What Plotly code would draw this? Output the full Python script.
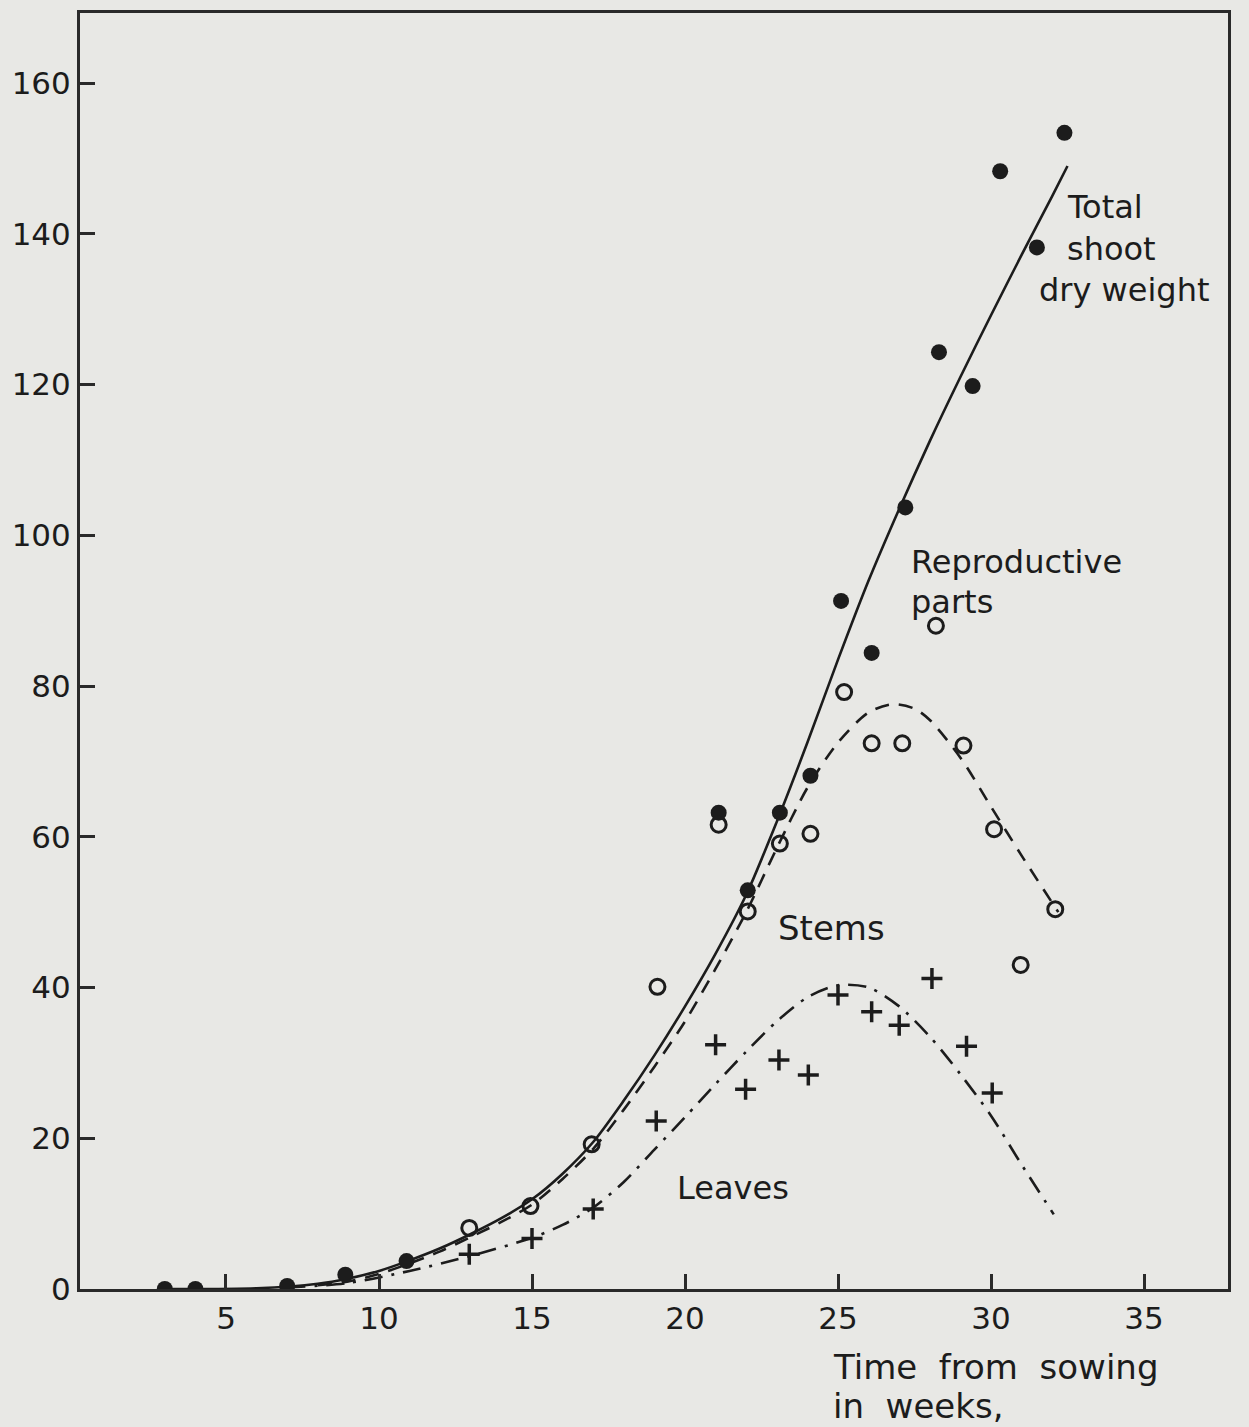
import plotly.graph_objects as go

# ---- Data ----
# Total shoot dry weight (filled dots)
total_x = [3, 4, 7, 8.9, 10.9, 21.1, 22.05, 23.1, 24.1, 25.1, 26.1, 27.2, 28.3, 29.4, 30.3, 31.5, 32.4]
total_y = [0, 0, 0.4, 1.9, 3.7, 63.2, 52.9, 63.2, 68.1, 91.3, 84.4, 103.7, 124.3, 119.8, 148.3, 138.2, 153.4]

# Reproductive parts (open circles)
repro_x = [12.95, 14.95, 16.95, 19.1, 21.1, 22.05, 23.1, 24.1, 25.2, 26.1, 27.1, 28.2, 29.1, 30.1, 30.97, 32.1]
repro_y = [8.1, 11.0, 19.2, 40.1, 61.6, 50.1, 59.1, 60.4, 79.2, 72.4, 72.4, 88.0, 72.1, 61.0, 43.0, 50.4]

# Plus markers (stems / leaves)
plus_x = [12.95, 15.0, 17.0, 19.06, 21.0, 21.98, 23.07, 24.03, 25.0, 26.1, 27.0, 28.07, 29.2, 30.04]
plus_y = [4.6, 6.7, 10.6, 22.3, 32.4, 26.5, 30.4, 28.4, 39.0, 36.8, 35.0, 41.2, 32.2, 26.0]

# Fitted curves
total_curve_x = [3, 6, 8, 9, 10, 11, 12, 13, 14, 15, 16, 17, 18, 19, 20, 21, 22, 23, 24, 25, 26, 27, 28, 29, 30, 31, 32, 32.5]
total_curve_y = [0, 0.1, 0.7, 1.4, 2.4, 3.8, 5.4, 7.3, 9.4, 11.9, 15.3, 19.5, 25, 31, 37.5, 44.5, 52.3, 62, 72.5, 83.5, 94, 103.5, 112.5, 121, 129.2, 137.2, 145, 149]

repro_curve_x = [8, 9, 10, 11, 12, 13, 14, 15, 16, 17, 18, 19, 20, 21, 22, 23, 24, 25, 26, 26.8, 27.5, 28, 29, 30, 31, 32.2]
repro_curve_y = [0.5, 1.0, 2.0, 3.4, 5.0, 6.9, 8.9, 11.2, 14.6, 18.6, 23.8, 29.5, 35.5, 42.5, 50, 58.5, 66.5, 72.5, 76.5, 77.6, 77, 75.5, 70.5, 64, 57.5, 50]

leaves_curve_x = [7, 9, 11, 13, 15, 16, 17, 18, 19, 20, 21, 22, 23, 24, 25, 26, 27, 28, 29, 30, 31, 32.05]
leaves_curve_y = [0.2, 0.8, 2.4, 4.4, 6.8, 8.5, 10.8, 14.2, 18.5, 22.8, 27.2, 31.5, 35.5, 38.7, 40.3, 40, 37.5, 33.5, 28.5, 23, 16.5, 9.9]

x_ticks = [5, 10, 15, 20, 25, 30, 35]
y_ticks = [0, 20, 40, 60, 80, 100, 120, 140, 160]

INK = "#1c1c1c"
BG = "#e8e8e5"
FONT = "DejaVu Sans"

fig = go.Figure()

curve_line = dict(color=INK, width=2.6, shape="spline", smoothing=0.8)
fig.add_trace(go.Scatter(x=total_curve_x, y=total_curve_y, mode="lines",
                         line=curve_line, showlegend=False, hoverinfo="skip"))
fig.add_trace(go.Scatter(x=repro_curve_x, y=repro_curve_y, mode="lines",
                         line=dict(curve_line, dash="14px,10px"),
                         showlegend=False, hoverinfo="skip"))
fig.add_trace(go.Scatter(x=leaves_curve_x, y=leaves_curve_y, mode="lines",
                         line=dict(curve_line, dash="18px,9px,3px,9px"),
                         showlegend=False, hoverinfo="skip"))

fig.add_trace(go.Scatter(x=total_x, y=total_y, mode="markers",
                         marker=dict(symbol="circle", size=16, color=INK),
                         showlegend=False))
fig.add_trace(go.Scatter(x=repro_x, y=repro_y, mode="markers",
                         marker=dict(symbol="circle-open", size=15, color=INK,
                                     line=dict(width=3, color=INK)),
                         showlegend=False))
fig.add_trace(go.Scatter(x=plus_x, y=plus_y, mode="markers",
                         marker=dict(symbol="cross-thin", size=15, color=INK,
                                     line=dict(width=3.5, color=INK)),
                         showlegend=False))

tf = dict(family=FONT, size=32, color=INK)
tf_big = dict(family=FONT, size=34, color=INK)
labels = [
    ("Total", 32.42, 143.5, tf),
    ("shoot", 32.42, 138.0, tf),
    ("dry weight", 31.5, 132.5, tf),
    ("Reproductive", 27.32, 96.4, tf),
    ("parts", 27.32, 91.2, tf),
    ("Stems", 22.97, 47.9, tf_big),
    ("Leaves", 19.67, 13.4, tf),
]
for txt, lx, ly, f in labels:
    fig.add_annotation(x=lx, y=ly, xref="x", yref="y", text=txt, showarrow=False,
                       xanchor="left", yanchor="middle", font=f)

fig.add_annotation(x=24.77, y=-0.061, xref="x", yref="paper", text="Time  from  sowing",
                   showarrow=False, xanchor="left", yanchor="middle", font=tf_big)
fig.add_annotation(x=24.77, y=-0.092, xref="x", yref="paper", text="in  weeks,",
                   showarrow=False, xanchor="left", yanchor="middle", font=tf_big)

axis_common = dict(showgrid=False, zeroline=False, showline=True, linecolor="#2a2a2a",
                   linewidth=3, mirror=True, ticks="inside", ticklen=15, tickwidth=2.5,
                   tickcolor="#2a2a2a", tickfont=dict(family=FONT, size=31, color=INK))

fig.update_xaxes(range=[0.229, 37.745], tickmode="array", tickvals=x_ticks,
                 ticktext=[str(v) for v in x_ticks], **axis_common)
fig.update_yaxes(range=[0, 169.3], tickmode="array", tickvals=y_ticks,
                 ticktext=[str(v) for v in y_ticks], **axis_common)

fig.update_layout(width=1249, height=1427,
                  margin=dict(l=80, r=21, t=10, b=138),
                  paper_bgcolor=BG, plot_bgcolor=BG,
                  font=dict(family=FONT, color=INK))

fig.write_html("out.html")
